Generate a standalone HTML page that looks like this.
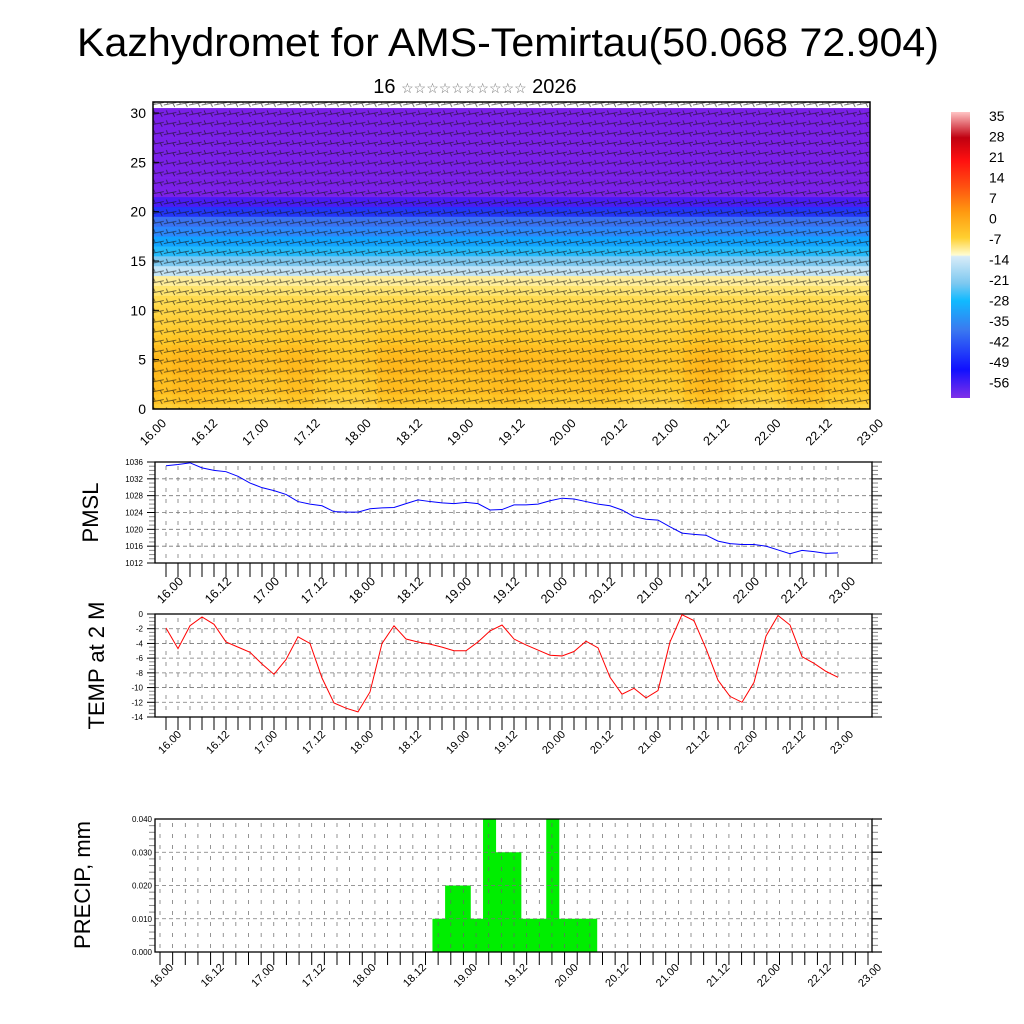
<!DOCTYPE html>
<html><head><meta charset="utf-8"><style>
body{margin:0;background:#fff}
svg{display:block;font-family:"Liberation Sans",sans-serif}
</style></head><body>
<svg id="c" width="1024" height="1024" viewBox="0 0 1024 1024">
<defs>
<pattern id="barbs" width="12.6" height="9.9" patternUnits="userSpaceOnUse">
<path d="M0 6 L12.6 3.5 M4 5.2 L2.5 1.5 M9 4.2 L11 8" stroke="#111" stroke-width="0.9" fill="none" opacity="0.65"/>
</pattern>
<linearGradient id="cbar" x1="0" y1="0" x2="0" y2="1">
<stop offset="0" stop-color="#ffc4c4"/><stop offset="0.09" stop-color="#c00010"/>
<stop offset="0.17" stop-color="#ff1010"/><stop offset="0.26" stop-color="#ff5010"/>
<stop offset="0.35" stop-color="#ff9a10"/><stop offset="0.44" stop-color="#ffd030"/>
<stop offset="0.5" stop-color="#fffcd0"/><stop offset="0.505" stop-color="#d8ecf8"/>
<stop offset="0.6" stop-color="#7cc8f0"/><stop offset="0.66" stop-color="#10baff"/>
<stop offset="0.76" stop-color="#3a7af0"/><stop offset="0.9" stop-color="#1010ff"/>
<stop offset="1" stop-color="#8030e8"/>
</linearGradient>
</defs>
<text x="508" y="56" text-anchor="middle" font-size="40" textLength="862" lengthAdjust="spacingAndGlyphs">Kazhydromet for AMS-Temirtau(50.068 72.904)</text>
<text x="475" y="93" text-anchor="middle" font-size="20">16 <tspan font-size="14" fill="#777">☆☆☆☆☆☆☆☆☆☆</tspan> 2026</text>
<g id="top"></g>
<g id="pm"></g>
<g id="tp"></g>
<g id="pr"></g>
<g id="cb"></g>
</svg>
<script>
const timeLabels=["16.00","16.12","17.00","17.12","18.00","18.12","19.00","19.12","20.00","20.12","21.00","21.12","22.00","22.12","23.00"];
const pmslValues=[1035.1,1035.4,1035.8,1034.6,1034,1033.7,1032.6,1031,1029.9,1029.2,1028.3,1026.6,1026,1025.6,1024.2,1024.1,1024.1,1024.9,1025.1,1025.2,1026.1,1027,1026.6,1026.3,1026.1,1026.4,1026.1,1024.6,1024.7,1025.8,1025.8,1026,1026.8,1027.4,1027.2,1026.6,1026,1025.6,1024.6,1023,1022.4,1022.2,1020.6,1019.1,1018.8,1018.6,1017.2,1016.6,1016.4,1016.4,1016,1015.1,1014.2,1015,1014.7,1014.3,1014.4];
const tempValues=[-1.9,-4.7,-1.6,-0.4,-1.4,-3.8,-4.5,-5.2,-6.8,-8.2,-6.2,-3.1,-4,-8.7,-12.1,-12.8,-13.3,-10.6,-4,-1.6,-3.4,-3.8,-4.1,-4.5,-5,-5,-3.8,-2.3,-1.5,-3.4,-4.2,-4.9,-5.6,-5.7,-5.1,-3.7,-4.6,-8.6,-10.9,-10.1,-11.4,-10.4,-3.8,-0.1,-0.9,-4.7,-9,-11.2,-12,-9.3,-3,-0.2,-1.5,-5.8,-6.7,-7.8,-8.6];
const precipStart=22;
const precipValues=[0.01,0.02,0.02,0.01,0.04,0.03,0.03,0.01,0.01,0.04,0.01,0.01,0.01];
const pmslTicks=[1012,1016,1020,1024,1028,1032,1036];
const tempTicks=[0,-2,-4,-6,-8,-10,-12,-14];
const precipTicks=[0,0.01,0.02,0.03,0.04];
const precipTickLabels=["0.000","0.010","0.020","0.030","0.040"];
const heightTicks=[0,5,10,15,20,25,30];
const profile=[-5,-3,-2,-2,-1.5,-1.5,-2,-3,-4,-5,-6,-7,-9,-11,-16,-21,-26,-31,-36,-41,-47,-53,-58,-60,-60,-60,-60,-60,-60,-60,-60];
const cbLabels=["35","28","21","14","7","0","-7","-14","-21","-28","-35","-42","-49","-56"];
const NS="http://www.w3.org/2000/svg";
function mk(p,t,a){const e=document.createElementNS(NS,t);for(const k in a)e.setAttribute(k,a[k]);p.appendChild(e);return e;}
const cstops=[[-62,[122,30,232]],[-56,[125,35,235]],[-50,[20,20,255]],[-42,[60,110,240]],[-35,[40,140,255]],[-28,[0,180,255]],[-21,[124,200,240]],[-14.5,[216,236,248]],[-13,[255,248,196]],[-8,[255,224,90]],[-3,[255,200,40]],[0,[255,176,20]],[7,[255,140,16]]];
function col(v){for(let i=1;i<cstops.length;i++){if(v<=cstops[i][0]){const a=cstops[i-1],b=cstops[i];const t=Math.max(0,(v-a[0])/(b[0]-a[0]));return 'rgb('+a[1].map((c,j)=>Math.round(c+(b[1][j]-c)*t)).join(',')+')';}}return 'rgb(255,140,16)';}
function xLabels(g,x0,x1,y,fs,dx){timeLabels.forEach((l,i)=>{const x=x0+(x1-x0)*i/14;const t=mk(g,'text',{x:x+dx,y:y,'font-size':fs,'text-anchor':'end',transform:`rotate(-45 ${x+dx} ${y})`});t.textContent=l;});}
(function(){const g=document.getElementById('top');const L=153,R=870,T=102,B=409;
const xs=i=>L+(R-L)*i/56, ys=h=>B-(B-113)*h/30;
for(let i=0;i<57;i++){for(let k=0;k<31;k++){const anom=(k<13)?(tempValues[i]+5)*0.25*(1-k/13):0;const v=profile[k]+anom;
const x0=Math.max(L,xs(i-0.5)),x1=Math.min(R,xs(i+0.5)),y0=Math.max(T,ys(k+0.5)),y1=Math.min(B,ys(k-0.5));
const r=mk(g,'rect',{x:x0,y:y0,width:x1-x0+0.3,height:y1-y0+0.3,fill:col(v)});}}
const w=mk(g,'rect',{x:L,y:T,width:R-L,height:B-T,fill:'url(#barbs)'});
mk(g,'rect',{x:L,y:T,width:R-L,height:B-T,fill:'none',stroke:'#000','stroke-width':1.5});
heightTicks.forEach(h=>{const y=ys(h);mk(g,'line',{x1:L,x2:L+6,y1:y,y2:y,stroke:'#000'});const t=mk(g,'text',{x:L-7,y:y+5,'font-size':14,'text-anchor':'end'});t.textContent=h;});
xLabels(g,L,R,424,12.5,14);})();
function linePanel(id,vals,ticks,tlabels,ymin,ymax,T,B,color,title,tx,tickLen){const g=document.getElementById(id);const L=155,R=872,X0=166,X1=838;
const xs=i=>X0+(X1-X0)*i/56, ys=v=>B-(B-T)*(v-ymin)/(ymax-ymin);
for(let i=0;i<57;i++){const x=xs(i);mk(g,'line',{x1:x,x2:x,y1:T+4,y2:B,stroke:'#666','stroke-width':0.7,'stroke-dasharray':'4 7'});mk(g,'line',{x1:x,x2:x,y1:B,y2:B+tickLen,stroke:'#000','stroke-width':1});}
ticks.forEach((v,j)=>{const y=ys(v);mk(g,'line',{x1:L,x2:R,y1:y,y2:y,stroke:'#777','stroke-width':0.8,'stroke-dasharray':'4 3'});mk(g,'line',{x1:L-8,x2:L,y1:y,y2:y,stroke:'#000'});mk(g,'line',{x1:R,x2:R+10,y1:y,y2:y,stroke:'#555','stroke-width':1.5});
const t=mk(g,'text',{x:L-12,y:y+3,'font-size':8,'text-anchor':'end'});t.textContent=tlabels[j];
if(j<ticks.length-1){for(let m=1;m<4;m++){const yy=ys(v+(ticks[j+1]-v)*m/4);mk(g,'line',{x1:L-6,x2:L,y1:yy,y2:yy,stroke:'#888'});mk(g,'line',{x1:R,x2:R+6,y1:yy,y2:yy,stroke:'#888'});}}});
mk(g,'rect',{x:L,y:T,width:R-L,height:B-T,fill:'none',stroke:'#000','stroke-width':1.3});
if(vals){const p=mk(g,'polyline',{points:vals.map((v,i)=>xs(i)+','+ys(v)).join(' '),fill:'none',stroke:color,'stroke-width':1});}
const t=mk(g,'text',{x:tx,y:(T+B)/2,'font-size':22,'text-anchor':'middle',transform:`rotate(-90 ${tx} ${(T+B)/2})`});t.textContent=title;
return {g,xs,ys};}
linePanel('pm',pmslValues,pmslTicks,pmslTicks.map(String),1012,1036,462,563,'#0000ff','PMSL',98,14);
xLabels(document.getElementById('pm'),166,838,582,12.5,18);
linePanel('tp',tempValues,tempTicks,tempTicks.map(String),-14,0,614,717,'#ff0000','TEMP at 2 M',104,13);
xLabels(document.getElementById('tp'),166,838,735,11,16);
(function(){const g=document.getElementById('pr');const L=155,R=872,T=819,B=952,X0=160,X1=868;
const xs=i=>X0+(X1-X0)*i/56, ys=v=>B-(B-T)*v/0.04;
precipValues.forEach((v,j)=>{const i=precipStart+j;const r=mk(g,'rect',{x:xs(i-0.45),y:ys(v),width:xs(i+0.55)-xs(i-0.45)+0.4,height:B-ys(v),fill:'#00ee00'});});
for(let i=0;i<57;i++){const x=xs(i);mk(g,'line',{x1:x,x2:x,y1:T+4,y2:B,stroke:'#666','stroke-width':0.7,'stroke-dasharray':'4 7'});mk(g,'line',{x1:x,x2:x,y1:B,y2:B+13,stroke:'#000'});}
precipTicks.forEach((v,j)=>{const y=ys(v);mk(g,'line',{x1:L,x2:R,y1:y,y2:y,stroke:'#777','stroke-width':0.8,'stroke-dasharray':'4 3'});mk(g,'line',{x1:R,x2:R+10,y1:y,y2:y,stroke:'#333','stroke-width':1.5});
const t=mk(g,'text',{x:L-3,y:y+3,'font-size':8,'text-anchor':'end'});t.textContent=precipTickLabels[j];
if(j<precipTicks.length-1){for(let m=1;m<5;m++){const yy=ys(v+0.01*m/5);mk(g,'line',{x1:L-6,x2:L,y1:yy,y2:yy,stroke:'#888'});mk(g,'line',{x1:R,x2:R+6,y1:yy,y2:yy,stroke:'#888'});}}});
mk(g,'rect',{x:L,y:T,width:R-L,height:B-T,fill:'none',stroke:'#000','stroke-width':1.3});
const t=mk(g,'text',{x:90,y:885,'font-size':22,'text-anchor':'middle',transform:'rotate(-90 90 885)'});t.textContent='PRECIP, mm';
xLabels(g,X0,X1,968,11,14);})();
(function(){const g=document.getElementById('cb');mk(g,'rect',{x:951,y:112,width:19,height:286,fill:'url(#cbar)'});
cbLabels.forEach((l,i)=>{const t=mk(g,'text',{x:989,y:121+i*20.5,'font-size':14});t.textContent=l;});})();
</script>
</body></html>
